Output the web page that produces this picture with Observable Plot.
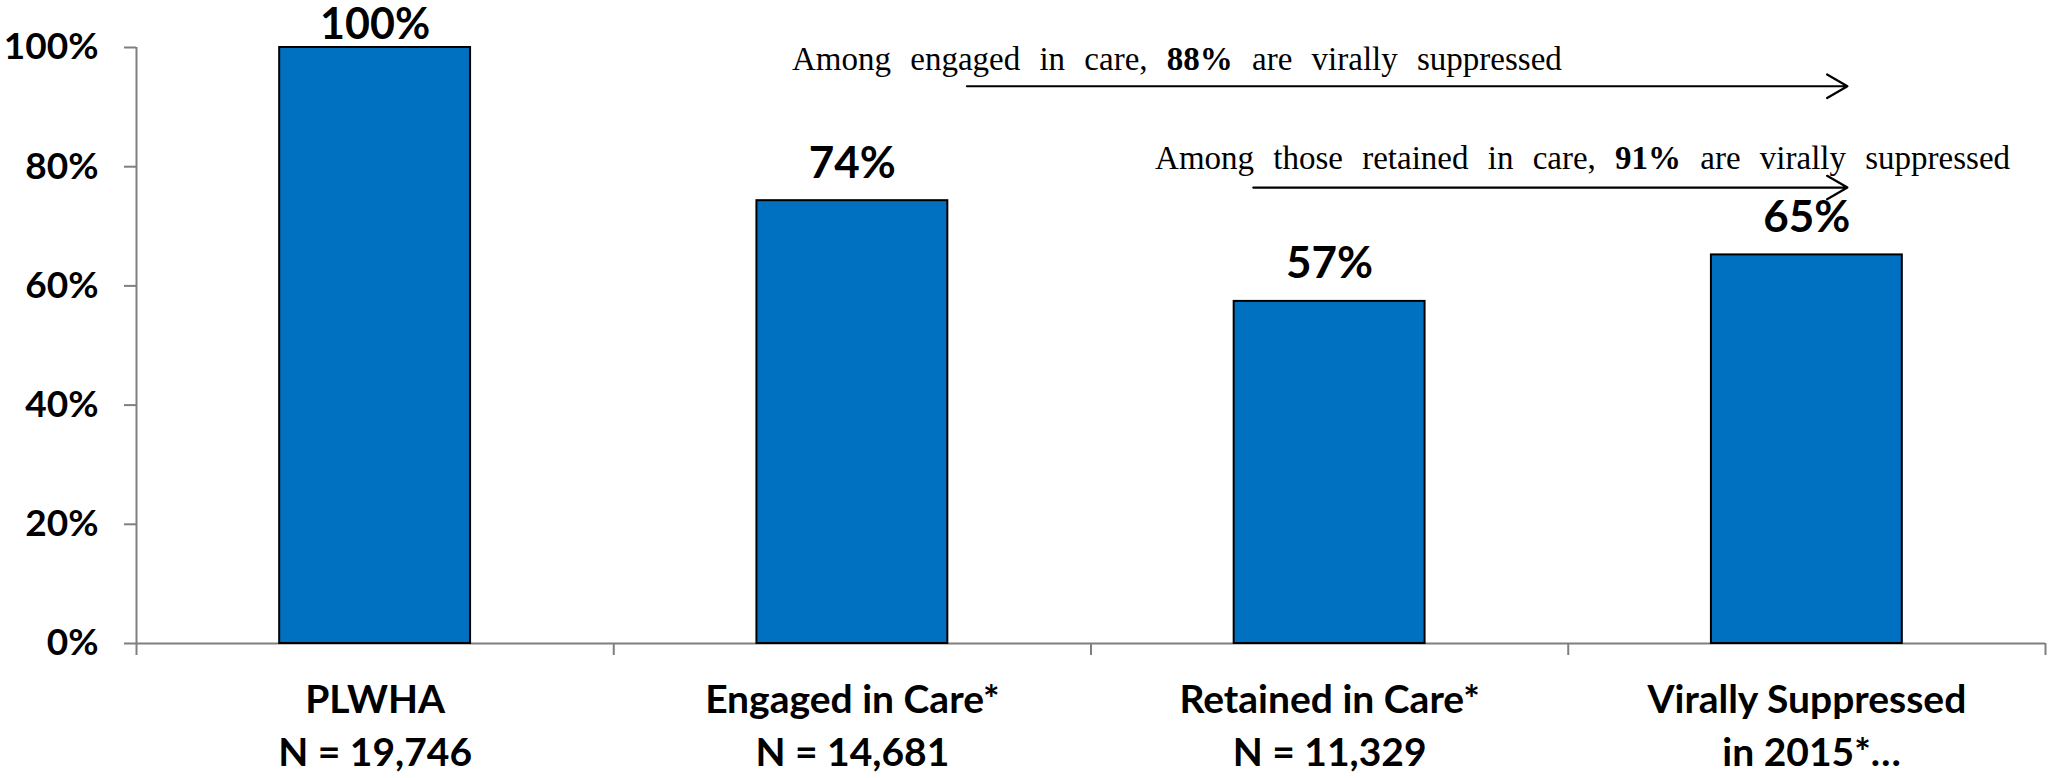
<!DOCTYPE html>
<html>
<head>
<meta charset="utf-8">
<script src="https://cdn.jsdelivr.net/npm/d3@7"></script>
<script src="https://cdn.jsdelivr.net/npm/@observablehq/plot@0.6"></script>
<style>
  html, body { margin: 0; padding: 0; background: #ffffff; }
  #chart svg { display: block; }
</style>
</head>
<body>
<div id="chart"></div>
<script>
// ---- data ----
const categories = ["PLWHA", "Engaged in Care*", "Retained in Care*", "Virally Suppressed"];
const subLabels = ["N = 19,746", "N = 14,681", "N = 11,329", "\u00a0in 2015*\u2026"];
const values = [100, 74.3, 57.4, 65.2];
const yTicks = [0, 20, 40, 60, 80, 100];
const annotationTexts = [
  "Among engaged in care, 88% are virally suppressed",
  "Among those retained in care, 91% are virally suppressed"
];
// annotation anchors in data units (x: category index units, y: percent)
const annotationX = [2.18, 3.03];
const annotationY = [98, 81.4];
const arrowStart = [1.74, 2.34];
const arrowEnd = [3.585, 3.585];
const arrowY = [93.5, 76.5];

const bars = categories.map((c, i) => ({i, category: c, sub: subLabels[i], value: values[i]}));
const annotations = annotationTexts.map((t, i) => ({text: t, x: annotationX[i], y: annotationY[i]}));
const arrows = arrowStart.map((s, i) => ({x1: s, x2: arrowEnd[i], y: arrowY[i]}));
const boundaries = d3.range(categories.length + 1);
const centers = categories.map((c, i) => i + 0.5);

const axisColor = "#7f7f7f";
const labelFont = "Lato, 'Open Sans', sans-serif";

const svg = Plot.plot({
  width: 2049,
  height: 778,
  marginLeft: 136,
  marginRight: 4,
  marginTop: 47,
  marginBottom: 135,
  style: {fontFamily: labelFont, background: "#ffffff", color: "#000000", overflow: "visible"},
  x: {type: "linear", domain: [0, categories.length], axis: null},
  y: {domain: [0, 100], axis: null},
  marks: [
    Plot.axisY({ticks: yTicks, tickSize: 12, tickPadding: 26, tickFormat: d => d + "%",
      fontSize: 37, fontWeight: "bold", stroke: axisColor, strokeWidth: 2, fill: "#000000"}),
    Plot.axisX({ticks: boundaries, tickSize: 12, tickFormat: () => "", stroke: axisColor, strokeWidth: 2}),
    Plot.axisX({ticks: centers, tickSize: 0, tickPadding: 32,
      tickFormat: d => categories[Math.floor(d)] + "\n" + subLabels[Math.floor(d)],
      fontSize: 39, fontWeight: "bold", lineHeight: 1.36, fill: "#000000"}),
    Plot.ruleX([0], {y1: 0, y2: 100, stroke: axisColor, strokeWidth: 2}),
    Plot.ruleY([0], {stroke: axisColor, strokeWidth: 2}),
    Plot.rectY(bars, {x1: d => d.i + 0.3, x2: d => d.i + 0.7, y: "value",
      fill: "#0070C0", stroke: "#000000", strokeWidth: 2}),
    Plot.text(bars.filter(d => d.value < 95), {x: d => d.i + 0.5, y: "value",
      text: d => Math.round(d.value) + "%", dy: -37, fontSize: 44, fontWeight: "bold", fill: "#000000"}),
    Plot.text(bars.filter(d => d.value >= 95), {x: d => d.i + 0.5, y: "value",
      text: d => Math.round(d.value) + "%", dy: -22, fontSize: 43, fontWeight: "bold", fill: "#000000"}),
    Plot.arrow(arrows, {x1: "x1", x2: "x2", y1: "y", y2: "y", stroke: "#000000",
      strokeWidth: 2.2, headLength: 16}),
    Plot.text(annotations, {x: "x", y: "y", text: "text", fontFamily: "'Liberation Serif', 'DejaVu Serif', serif",
      fontSize: 33, fill: "#000000"})
  ]
});

// make the percentage inside each annotation bold
d3.select(svg).selectAll("text").each(function() {
  const t = this.textContent;
  if (!/^Among/.test(t)) return;
  const m = t.match(/^(.*?)(\d+%)(.*)$/);
  if (!m) return;
  const sel = d3.select(this);
  sel.text(null).style("word-spacing", "11px");
  sel.append("tspan").text(m[1]);
  sel.append("tspan").attr("font-weight", "bold").text(m[2]);
  sel.append("tspan").text(m[3]);
});

document.getElementById("chart").appendChild(svg);
</script>
</body>
</html>
